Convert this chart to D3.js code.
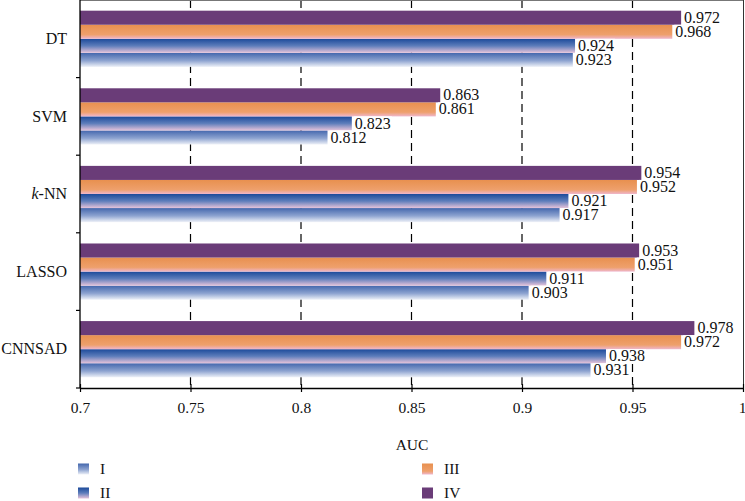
<!DOCTYPE html>
<html><head><meta charset="utf-8">
<script src="https://cdn.jsdelivr.net/npm/d3@7"></script>
<style>body{margin:0;background:#fff}svg{display:block}text{font-family:"Liberation Serif","DejaVu Serif",serif}</style>
</head><body><svg id="c" width="745" height="501"></svg>
<script>
const categories = ["DT","SVM","k-NN","LASSO","CNNSAD"];
const seriesNames = ["I","II","III","IV"];
const valuesI   = [0.923,0.812,0.917,0.903,0.931];
const valuesII  = [0.924,0.823,0.921,0.911,0.938];
const valuesIII = [0.968,0.861,0.952,0.951,0.972];
const valuesIV  = [0.972,0.863,0.954,0.953,0.978];
const xTicks = [0.7,0.75,0.8,0.85,0.9,0.95,1];

const series = [valuesI,valuesII,valuesIII,valuesIV];
const svg = d3.select("#c");
const L=80,R=743,T=0,B=388;
const x = d3.scaleLinear().domain([0.7,1]).range([L,R]);
const y = d3.scaleBand().domain(categories).range([T,B]).paddingInner(0).paddingOuter(0);
const inner = d3.scaleBand().domain(["IV","III","II","I"]).range([0,y.bandwidth()]).paddingOuter(0.76).paddingInner(0);

const defs = svg.append("defs");
const grads = {
  I:[["0","#4467ad"],["0.55","#8da3d0"],["1","#eef1f8"]],
  II:[["0","#1c4a9a"],["0.5","#5d7dbb"],["1","#e6c3da"]],
  III:[["0","#e8904f"],["0.7","#eea06c"],["1","#efb6cc"]],
  IV:[["0","#6a3c78"],["1","#6a3c78"]]
};
Object.entries(grads).forEach(([k,stops])=>{
  const g=defs.append("linearGradient").attr("id","g"+k).attr("x1",0).attr("y1",0).attr("x2",0).attr("y2",1);
  stops.forEach(s=>g.append("stop").attr("offset",s[0]).attr("stop-color",s[1]));
});

// gridlines
svg.append("g").selectAll("line").data(xTicks.filter(t=>t>0.7&&t<1)).join("line")
  .attr("x1",d=>x(d)).attr("x2",d=>x(d)).attr("y1",T).attr("y2",B)
  .attr("stroke","#000").attr("stroke-width",1.2).attr("stroke-dasharray","8,5");

// frame
svg.append("line").attr("x1",L).attr("x2",R).attr("y1",T+0.5).attr("y2",T+0.5).attr("stroke","#777");
svg.append("line").attr("x1",R+0.5).attr("x2",R+0.5).attr("y1",T).attr("y2",B).attr("stroke","#333");

// bars
const barData=[];
categories.forEach((c,i)=>seriesNames.forEach((s,j)=>barData.push({c,s,v:series[j][i]})));
const bars=svg.append("g");
bars.selectAll("rect").data(barData).join("rect")
  .attr("x",x(0.7)).attr("y",d=>y(d.c)+inner(d.s))
  .attr("width",d=>x(d.v)-x(0.7)).attr("height",inner.bandwidth())
  .attr("fill",d=>"url(#g"+d.s+")");
const lab=svg.append("g").selectAll("g").data(barData).join("g")
  .attr("transform",d=>`translate(${x(d.v)+3},${y(d.c)+inner(d.s)+inner.bandwidth()/2})`);
const bg=lab.append("rect").attr("fill","#fff");
const lt=lab.append("text").attr("dy","0.32em").attr("font-size",16).attr("fill","#111").text(d=>d3.format(".3f")(d.v));
lab.each(function(){
  const g=d3.select(this);
  const w=g.select("text").node().getComputedTextLength();
  g.select("rect").attr("x",-1).attr("y",-inner.bandwidth()/2).attr("width",w+2).attr("height",inner.bandwidth());
});

// x axis
const xa=svg.append("g").attr("transform",`translate(0,${B})`)
  .call(d3.axisBottom(x).tickValues(xTicks).tickFormat(d=>String(d)).tickSize(5).tickSizeOuter(0));
xa.select(".domain").attr("stroke","#000").attr("stroke-width",1.3);
xa.selectAll(".tick line").attr("y1",-4).attr("y2",4).attr("stroke-width",1.2);
xa.selectAll("text").attr("font-size",15.5).attr("dy","1.1em").attr("fill","#111").attr("font-family","Liberation Serif");
xa.selectAll(".tick text").filter(d=>d===1).attr("dx","-1");

// y axis
svg.append("line").attr("x1",L).attr("x2",L).attr("y1",T).attr("y2",B).attr("stroke","#000").attr("stroke-width",1.3);
svg.append("g").selectAll("line").data(categories.slice(1).map(c=>y(c)).concat([B])).join("line")
  .attr("x1",L-4).attr("x2",L).attr("y1",d=>d).attr("y2",d=>d).attr("stroke","#000").attr("stroke-width",1.2);
const cl=svg.append("g").selectAll("text").data(categories).join("text")
  .attr("x",L-13).attr("y",d=>y(d)+y.bandwidth()/2).attr("dy","0.32em").attr("text-anchor","end")
  .attr("font-size",16).attr("fill","#111");
cl.each(function(d){
  const t=d3.select(this);
  if(d==="k-NN"){t.append("tspan").attr("font-style","italic").text("k");t.append("tspan").text("-NN");}
  else t.text(d);
});

// axis title
svg.append("text").attr("x",412).attr("y",450).attr("text-anchor","middle").attr("font-size",15.5).attr("fill","#111").text("AUC");

// legend
const legPos={I:[78,469],II:[78,493],III:[422,469],IV:[422,493]};
const lg=svg.append("g").selectAll("g").data(seriesNames).join("g")
  .attr("transform",d=>`translate(${legPos[d][0]},${legPos[d][1]})`);
lg.append("rect").attr("width",11).attr("height",11).attr("y",-5.5).attr("fill",d=>"url(#g"+d+")");
lg.append("text").attr("x",22).attr("y",0).attr("dy","0.35em").attr("font-size",15.5).attr("fill","#111").text(d=>d);
</script></body></html>
